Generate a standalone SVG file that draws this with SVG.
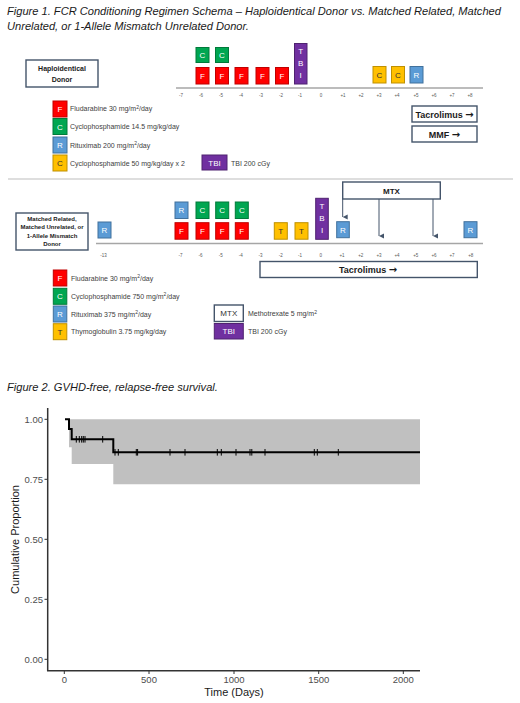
<svg xmlns="http://www.w3.org/2000/svg" width="520" height="703" viewBox="0 0 520 703">
<style>
text{font-family:"Liberation Sans",Arial,sans-serif}
.ttl{font-size:11.1px;font-style:italic;fill:#1a1a1a}
.bx{stroke-width:1}
.r{fill:#ff0000;stroke:#c00000}
.g{fill:#00a651;stroke:#007a3a}
.b{fill:#5b9bd5;stroke:#41719c}
.y{fill:#ffc000;stroke:#bf9000}
.p{fill:#7030a0;stroke:#4f2270}
.ol{fill:#fff;stroke:#44546a;stroke-width:1.4}
.lt{font-size:8px;fill:#fff;text-anchor:middle}
.dt{font-size:8px;fill:#333;text-anchor:middle}
.lg{font-size:7px;fill:#404040}
.tk{font-size:4.5px;fill:#595959;text-anchor:middle}
.ax{stroke:#a6a6a6;stroke-width:1.3}
.bd{font-weight:bold;fill:#1a1a1a;text-anchor:middle}
.arr{font-family:"DejaVu Sans",sans-serif;font-size:10px;font-weight:bold}
.cn{stroke:#44546a;stroke-width:1;fill:none}
.ct{font-size:9.5px;fill:#4d4d4d}
.cs{stroke:#000;stroke-width:1}
</style>
<defs>
<marker id="ah" markerWidth="6" markerHeight="6" refX="3" refY="5" orient="auto" markerUnits="userSpaceOnUse" viewBox="0 0 6 6">
<path d="M0.5 0 L3 5 L5.5 0 Z" fill="#44546a"/>
</marker>
</defs>

<g id="titles">
<text class="ttl" x="7" y="15">Figure 1. FCR Conditioning Regimen Schema – Haploidentical Donor vs. Matched Related, Matched</text>
<text class="ttl" x="7" y="30">Unrelated, or 1-Allele Mismatch Unrelated Donor.</text>
<text class="ttl" x="7" y="391" font-size="10.7">Figure 2. GVHD-free, relapse-free survival.</text>
</g>

<!-- Top schema -->
<g id="haplo-label">
<rect class="ol" x="26" y="60" width="72" height="27"/>
<text class="bd" x="62" y="71" font-size="7">Haploidentical</text>
<text class="bd" x="62" y="82" font-size="7">Donor</text>
</g>
<g id="top-axis">
<line class="ax" x1="176" y1="88" x2="483" y2="88"/>
<text class="tk" x="181" y="97">-7</text>
<text class="tk" x="201" y="97">-6</text>
<text class="tk" x="221" y="97">-5</text>
<text class="tk" x="241" y="97">-4</text>
<text class="tk" x="261" y="97">-3</text>
<text class="tk" x="281" y="97">-2</text>
<text class="tk" x="300" y="97">-1</text>
<text class="tk" x="321" y="97">0</text>
<text class="tk" x="343" y="97">+1</text>
<text class="tk" x="361" y="97">+2</text>
<text class="tk" x="379" y="97">+3</text>
<text class="tk" x="397" y="97">+4</text>
<text class="tk" x="416" y="97">+5</text>
<text class="tk" x="434" y="97">+6</text>
<text class="tk" x="452" y="97">+7</text>
<text class="tk" x="470" y="97">+8</text>
</g>
<g id="top-drugs">
<rect class="bx g" x="196" y="47.5" width="13" height="15"/><text class="lt" x="202.5" y="58">C</text>
<rect class="bx g" x="215.5" y="47.5" width="13" height="15"/><text class="lt" x="222" y="58">C</text>
<rect class="bx r" x="196" y="67.5" width="13" height="16.5"/><text class="lt" x="202.5" y="78.5">F</text>
<rect class="bx r" x="215.5" y="67.5" width="13" height="16.5"/><text class="lt" x="222" y="78.5">F</text>
<rect class="bx r" x="235" y="67.5" width="13" height="16.5"/><text class="lt" x="241.5" y="78.5">F</text>
<rect class="bx r" x="256" y="67.5" width="13" height="16.5"/><text class="lt" x="262.5" y="78.5">F</text>
<rect class="bx r" x="275.5" y="67.5" width="13" height="16.5"/><text class="lt" x="282" y="78.5">F</text>
<rect class="bx p" x="294.5" y="43.5" width="12.5" height="40.5"/>
<text class="lt" x="300.7" y="53.5">T</text><text class="lt" x="300.7" y="66">B</text><text class="lt" x="300.7" y="78">I</text>
<rect class="bx y" x="373" y="66.5" width="13" height="16.5"/><text class="dt" x="379.5" y="77.5">C</text>
<rect class="bx y" x="391.5" y="66.5" width="13" height="16.5"/><text class="dt" x="398" y="77.5">C</text>
<rect class="bx b" x="410" y="66.5" width="13" height="16.5"/><text class="lt" x="416.5" y="77.5">R</text>
</g>
<g id="top-tacrolimus">
<rect class="ol" x="412" y="106" width="65" height="16"/>
<text class="bd" x="444.5" y="117.5" font-size="9">Tacrolimus <tspan class="arr">→</tspan></text>
</g>
<g id="top-mmf">
<rect class="ol" x="412" y="126" width="65" height="16"/>
<text class="bd" x="444.5" y="137.5" font-size="9">MMF <tspan class="arr">→</tspan></text>
</g>
<g id="top-legend">
<rect class="bx r" x="53" y="101" width="14" height="16"/><text class="lt" x="60" y="112">F</text>
<text class="lg" x="70" y="111">Fludarabine 30 mg/m<tspan font-size="5" dy="-2.5">2</tspan><tspan dy="2.5">/day</tspan></text>
<rect class="bx g" x="53" y="118.5" width="14" height="16"/><text class="lt" x="60" y="129.5">C</text>
<text class="lg" x="70" y="128.5">Cyclophosphamide 14.5 mg/kg/day</text>
<rect class="bx b" x="53" y="137" width="14" height="16"/><text class="lt" x="60" y="148">R</text>
<text class="lg" x="70" y="147.5">Rituximab 200 mg/m<tspan font-size="5" dy="-2.5">2</tspan><tspan dy="2.5">/day</tspan></text>
<rect class="bx y" x="53" y="155" width="14" height="16"/><text class="dt" x="60" y="166">C</text>
<text class="lg" x="70" y="165.5">Cyclophosphamide 50 mg/kg/day x 2</text>
<rect class="bx p" x="202" y="155" width="25" height="15"/><text class="lt" x="214.5" y="165.5">TBI</text>
<text class="lg" x="231" y="165.5">TBI 200 cGy</text>
</g>

<line x1="8" y1="179" x2="513" y2="179" stroke="#d3d3d3" stroke-width="1.5"/>

<!-- Bottom schema -->
<g id="matched-label">
<rect class="ol" x="16" y="213" width="72" height="37"/>
<text class="bd" x="52" y="220.5" font-size="6">Matched Related,</text>
<text class="bd" x="52" y="229.3" font-size="6">Matched Unrelated, or</text>
<text class="bd" x="52" y="237.5" font-size="6">1-Allele Mismatch</text>
<text class="bd" x="52" y="245.5" font-size="6">Donor</text>
</g>
<g id="bottom-axis">
<line class="ax" x1="96" y1="243.5" x2="483" y2="243.5"/>
<text class="tk" x="103.5" y="256.5">-13</text>
<text class="tk" x="180.5" y="256.5">-7</text>
<text class="tk" x="200.5" y="256.5">-6</text>
<text class="tk" x="220.7" y="256.5">-5</text>
<text class="tk" x="240.7" y="256.5">-4</text>
<text class="tk" x="260.5" y="256.5">-3</text>
<text class="tk" x="280.7" y="256.5">-2</text>
<text class="tk" x="300" y="256.5">-1</text>
<text class="tk" x="320.7" y="256.5">0</text>
<text class="tk" x="342" y="256.5">+1</text>
<text class="tk" x="360.7" y="256.5">+2</text>
<text class="tk" x="379" y="256.5">+3</text>
<text class="tk" x="397" y="256.5">+4</text>
<text class="tk" x="415.7" y="256.5">+5</text>
<text class="tk" x="434" y="256.5">+6</text>
<text class="tk" x="452" y="256.5">+7</text>
<text class="tk" x="470.7" y="256.5">+8</text>
</g>
<g id="bottom-drugs">
<rect class="bx b" x="98" y="222" width="13" height="16"/><text class="lt" x="104.5" y="233">R</text>
<rect class="bx b" x="175" y="202" width="13" height="16.5"/><text class="lt" x="181.5" y="213">R</text>
<rect class="bx g" x="196" y="202" width="13" height="16.5"/><text class="lt" x="202.5" y="213">C</text>
<rect class="bx g" x="215.7" y="202" width="13" height="16.5"/><text class="lt" x="222.2" y="213">C</text>
<rect class="bx g" x="235.3" y="202" width="13" height="16.5"/><text class="lt" x="241.8" y="213">C</text>
<rect class="bx r" x="175" y="222.7" width="13" height="16.5"/><text class="lt" x="181.5" y="233.7">F</text>
<rect class="bx r" x="196" y="222.7" width="13" height="16.5"/><text class="lt" x="202.5" y="233.7">F</text>
<rect class="bx r" x="215.7" y="222.7" width="13" height="16.5"/><text class="lt" x="222.2" y="233.7">F</text>
<rect class="bx r" x="235.3" y="222.7" width="13" height="16.5"/><text class="lt" x="241.8" y="233.7">F</text>
<rect class="bx y" x="274.3" y="222.7" width="13" height="16.5"/><text class="dt" x="280.8" y="233.7">T</text>
<rect class="bx y" x="295" y="222.7" width="13" height="16.5"/><text class="dt" x="301.5" y="233.7">T</text>
<rect class="bx p" x="315.7" y="198.3" width="12.6" height="41"/>
<text class="lt" x="322" y="208.5">T</text><text class="lt" x="322" y="221">B</text><text class="lt" x="322" y="233">I</text>
<rect class="bx b" x="336.7" y="221.7" width="12.6" height="16"/><text class="lt" x="343" y="232.7">R</text>
<rect class="bx b" x="464" y="221.7" width="13" height="16"/><text class="lt" x="470.5" y="232.7">R</text>
</g>
<g id="mtx">
<rect class="ol" x="342.7" y="182" width="97.6" height="17"/>
<text class="bd" x="391.5" y="193.5" font-size="8">MTX</text>
</g>
<g id="connectors">
<line class="cn" x1="342.7" y1="199" x2="342.7" y2="217" marker-end="url(#ah)"/>
<line class="cn" x1="379" y1="199" x2="379" y2="236" marker-end="url(#ah)"/>
<line class="cn" x1="433" y1="199" x2="433" y2="236" marker-end="url(#ah)"/>
</g>
<g id="bottom-tacrolimus">
<rect class="ol" x="260" y="261.5" width="217.3" height="16"/>
<text class="bd" x="368" y="272.8" font-size="9">Tacrolimus <tspan class="arr">→</tspan></text>
</g>
<g id="bottom-legend">
<rect class="bx r" x="53.3" y="270" width="13.5" height="16"/><text class="lt" x="60" y="281">F</text>
<text class="lg" x="71" y="280.5">Fludarabine 30 mg/m<tspan font-size="5" dy="-2.5">2</tspan><tspan dy="2.5">/day</tspan></text>
<rect class="bx g" x="53.3" y="288.3" width="13.5" height="16"/><text class="lt" x="60" y="299.3">C</text>
<text class="lg" x="71" y="298.8">Cyclophosphamide 750 mg/m<tspan font-size="5" dy="-2.5">2</tspan><tspan dy="2.5">/day</tspan></text>
<rect class="bx b" x="53.3" y="306" width="13.5" height="16"/><text class="lt" x="60" y="317">R</text>
<text class="lg" x="71" y="316.5">Rituximab 375 mg/m<tspan font-size="5" dy="-2.5">2</tspan><tspan dy="2.5">/day</tspan></text>
<rect class="bx y" x="53.3" y="323.7" width="13.5" height="16"/><text class="dt" x="60" y="334.7">T</text>
<text class="lg" x="71" y="334.2">Thymoglobulin 3.75 mg/kg/day</text>
<rect class="ol" x="214.3" y="305" width="29" height="16.5"/><text class="dt" x="228.8" y="316" font-size="7.5">MTX</text>
<text class="lg" x="248" y="316">Methotrexate 5 mg/m<tspan font-size="5" dy="-2.5">2</tspan></text>
<rect class="bx p" x="214.3" y="323.5" width="29" height="15.5"/><text class="lt" x="228.8" y="334">TBI</text>
<text class="lg" x="248" y="334">TBI 200 cGy</text>
</g>

<!-- Figure 2 chart -->
<g id="km-band">
<path d="M69 419.3 H420 V484.3 H113.3 V464 H71.7 V447.3 H69 Z" fill="#c0c0c0"/>
</g>
<g id="km-curve">
<path d="M65 419.3 H69 V429 H71.7 V439.3 H113.3 V452.2 H420" fill="none" stroke="#000" stroke-width="2"/>
<path class="cs" d="M76.3 436 v6.6 M79.3 436 v6.6 M81.7 436 v6.6 M83.3 436 v6.6 M85 436 v6.6 M102.7 436 v6.6 M115 449 v6.6 M118.3 449 v6.6 M136.3 449 v6.6 M137.6 449 v6.6 M170 449 v6.6 M185 449 v6.6 M217.3 449 v6.6 M221.3 449 v6.6 M236 449 v6.6 M250 449 v6.6 M251.8 449 v6.6 M265 449 v6.6 M314.3 449 v6.6 M317.3 449 v6.6 M338.3 449 v6.6"/>
</g>
<g id="km-axes">
<line x1="47.7" y1="408" x2="47.7" y2="671" stroke="#333" stroke-width="1.5"/>
<line x1="47" y1="670.7" x2="420" y2="670.7" stroke="#333" stroke-width="1.5"/>
<path d="M44.5 419.3 H47.7 M44.5 479.3 H47.7 M44.5 539.3 H47.7 M44.5 599.3 H47.7 M44.5 659.3 H47.7" stroke="#333" stroke-width="1"/>
<path d="M64.3 671 V674 M149 671 V674 M234 671 V674 M318.7 671 V674 M403.3 671 V674" stroke="#333" stroke-width="1"/>
<text class="ct" x="43" y="422.8" text-anchor="end">1.00</text>
<text class="ct" x="43" y="482.8" text-anchor="end">0.75</text>
<text class="ct" x="43" y="542.8" text-anchor="end">0.50</text>
<text class="ct" x="43" y="602.8" text-anchor="end">0.25</text>
<text class="ct" x="43" y="662.8" text-anchor="end">0.00</text>
<text class="ct" x="64.3" y="683" text-anchor="middle">0</text>
<text class="ct" x="149" y="683" text-anchor="middle">500</text>
<text class="ct" x="234" y="683" text-anchor="middle">1000</text>
<text class="ct" x="318.7" y="683" text-anchor="middle">1500</text>
<text class="ct" x="403.3" y="683" text-anchor="middle">2000</text>
<text x="234" y="696" font-size="11" fill="#1a1a1a" text-anchor="middle">Time (Days)</text>
<text x="0" y="0" font-size="11" fill="#1a1a1a" text-anchor="middle" transform="translate(19 539.5) rotate(-90)">Cumulative Proportion</text>
</g>
</svg>
